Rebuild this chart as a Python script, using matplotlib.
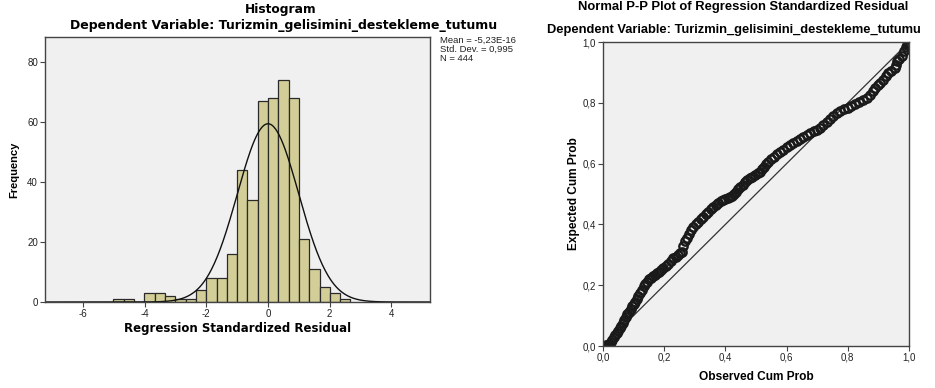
import numpy as np
import matplotlib.pyplot as plt

plt.rcParams['axes.unicode_minus'] = False

# Histogram of regression standardized residuals
counts = [1, 1, 0, 3, 3, 2, 1, 1, 4, 8, 8, 16, 44, 34, 67, 68, 74, 68, 21, 11, 5, 3, 1]
bin_start = -5.01
bin_width = 0.334

# Normal curve parameters (from SPSS output)
mean = -5.23e-16
std_dev = 0.995
n_obs = 444

# Normal P-P plot: observed cum prob vs expected cum prob
observed = [0.000, 0.005, 0.010, 0.015, 0.020, 0.025, 0.030, 0.035, 0.040, 0.045,
            0.050, 0.056, 0.060, 0.065, 0.070, 0.075, 0.080, 0.085, 0.090, 0.095,
            0.100, 0.105, 0.110, 0.115, 0.121, 0.127, 0.133, 0.138, 0.143, 0.150,
            0.157, 0.163, 0.170, 0.177, 0.184, 0.190, 0.197, 0.205, 0.213, 0.222,
            0.230, 0.238, 0.245, 0.251, 0.257, 0.262, 0.268, 0.273, 0.280, 0.288,
            0.295, 0.303, 0.311, 0.320, 0.328, 0.336, 0.344, 0.352, 0.360, 0.368,
            0.376, 0.385, 0.393, 0.400, 0.407, 0.414, 0.420, 0.427, 0.434, 0.441,
            0.448, 0.456, 0.464, 0.472, 0.480, 0.488, 0.497, 0.505, 0.513, 0.520,
            0.527, 0.534, 0.540, 0.550, 0.559, 0.568, 0.578, 0.589, 0.600, 0.611,
            0.622, 0.633, 0.644, 0.655, 0.666, 0.677, 0.688, 0.698, 0.709, 0.720,
            0.731, 0.742, 0.753, 0.764, 0.775, 0.787, 0.800, 0.812, 0.825, 0.838,
            0.850, 0.862, 0.872, 0.882, 0.890, 0.898, 0.906, 0.916, 0.924, 0.932,
            0.942, 0.954, 0.957, 0.960, 0.968, 0.976, 0.984, 0.990, 0.994, 0.998,
            1.000]
expected = [0.000, 0.001, 0.002, 0.004, 0.007, 0.012, 0.020, 0.028, 0.036, 0.043,
            0.050, 0.058, 0.066, 0.076, 0.087, 0.095, 0.104, 0.113, 0.121, 0.130,
            0.138, 0.146, 0.155, 0.163, 0.173, 0.185, 0.196, 0.204, 0.212, 0.219,
            0.225, 0.229, 0.234, 0.240, 0.245, 0.250, 0.256, 0.263, 0.271, 0.280,
            0.288, 0.294, 0.300, 0.305, 0.310, 0.329, 0.346, 0.354, 0.367, 0.380,
            0.392, 0.400, 0.409, 0.417, 0.425, 0.434, 0.442, 0.450, 0.458, 0.465,
            0.471, 0.476, 0.480, 0.483, 0.486, 0.489, 0.493, 0.500, 0.508, 0.516,
            0.524, 0.531, 0.538, 0.545, 0.552, 0.557, 0.562, 0.568, 0.573, 0.581,
            0.590, 0.598, 0.606, 0.614, 0.623, 0.631, 0.639, 0.646, 0.653, 0.660,
            0.667, 0.673, 0.680, 0.687, 0.694, 0.700, 0.706, 0.711, 0.716, 0.726,
            0.736, 0.746, 0.755, 0.765, 0.772, 0.778, 0.784, 0.790, 0.797, 0.803,
            0.809, 0.816, 0.826, 0.838, 0.849, 0.858, 0.866, 0.876, 0.887, 0.898,
            0.906, 0.914, 0.925, 0.937, 0.945, 0.953, 0.969, 0.983, 0.990, 0.997,
            1.000]

pp_ticks = [0.0, 0.2, 0.4, 0.6, 0.8, 1.0]
pp_ticklabels = ['0,0', '0,2', '0,4', '0,6', '0,8', '1,0']

W, H = 935, 388
fig = plt.figure(figsize=(W / 100, H / 100), dpi=100)
fig.patch.set_facecolor('white')

bg = '#f0f0f0'
frame = '#444444'
tick_font = dict(family='Liberation Sans', size=7, color='#222222')


def style_axes(ax):
    ax.set_facecolor(bg)
    for s in ax.spines.values():
        s.set_color(frame)
        s.set_linewidth(1.0)
    ax.tick_params(direction='out', length=3.5, width=0.8, color=frame,
                   top=False, right=False, pad=1.5)
    for lab in ax.get_xticklabels() + ax.get_yticklabels():
        lab.set_fontfamily(tick_font['family'])
        lab.set_fontsize(tick_font['size'])
        lab.set_color(tick_font['color'])


# ---- left: histogram ----
ax1 = fig.add_axes([45 / W, 1 - 302 / H, 385 / W, 265 / H])
edges = bin_start + bin_width * np.arange(len(counts) + 1)
ax1.bar(edges[:-1], counts, width=bin_width, align='edge',
        color='#d3ce97', edgecolor='#2a2a2a', linewidth=0.9)
xs = np.linspace(-7.3, 5.3, 400)
curve = n_obs * bin_width * np.exp(-0.5 * ((xs - mean) / std_dev) ** 2) / (std_dev * np.sqrt(2 * np.pi))
ax1.plot(xs, curve, color='#111111', lw=1.0)
ax1.set_xlim(-7.23, 5.25)
ax1.set_ylim(0, 88.4)
ax1.set_xticks([-6, -4, -2, 0, 2, 4])
ax1.set_yticks([0, 20, 40, 60, 80])
style_axes(ax1)
ax1.set_xlabel('Regression Standardized Residual', family='DejaVu Sans',
               fontweight='bold', fontsize=8.5, labelpad=2)
ax1.set_ylabel('Frequency', family='Liberation Sans', fontweight='bold',
               fontsize=8.0, labelpad=6)

fig.text(281 / W, 1 - 9 / H, 'Histogram', family='DejaVu Sans',
         fontweight='bold', fontsize=8.8, ha='center', va='center')
fig.text(284 / W, 1 - 26 / H, 'Dependent Variable: Turizmin_gelisimini_destekleme_tutumu',
         family='DejaVu Sans', fontweight='bold', fontsize=9.0, ha='center', va='center')
fig.text(440 / W, 1 - 36 / H,
         'Mean = -5,23E-16\nStd. Dev. = 0,995\nN = 444',
         family='Liberation Sans', fontsize=6.8, ha='left', va='top', linespacing=1.0,
         color='#222222')

# ---- right: normal P-P plot ----
ax2 = fig.add_axes([603 / W, 1 - 346 / H, 306 / W, 304 / H])
ax2.plot([0, 1], [0, 1], color='#333333', lw=0.9)
ax2.plot(observed, expected, linestyle='none', marker='o', markersize=6.0,
         markerfacecolor='none', markeredgecolor='#1a1a1a', markeredgewidth=1.7)
ax2.set_xlim(0, 1)
ax2.set_ylim(0, 1)
ax2.set_xticks(pp_ticks)
ax2.set_xticklabels(pp_ticklabels)
ax2.set_yticks(pp_ticks)
ax2.set_yticklabels(pp_ticklabels)
style_axes(ax2)
ax2.set_xlabel('Observed Cum Prob', family='Liberation Sans', fontweight='bold',
               fontsize=8.6, labelpad=6)
ax2.set_ylabel('Expected Cum Prob', family='Liberation Sans', fontweight='bold',
               fontsize=8.6, labelpad=2)

fig.text(743 / W, 1 - 7 / H, 'Normal P-P Plot of Regression Standardized Residual',
         family='Liberation Sans', fontweight='bold', fontsize=9.4, ha='center', va='center')
fig.text(734 / W, 1 - 30 / H, 'Dependent Variable: Turizmin_gelisimini_destekleme_tutumu',
         family='Liberation Sans', fontweight='bold', fontsize=9.3, ha='center', va='center')

plt.savefig('out.png', dpi=100)
